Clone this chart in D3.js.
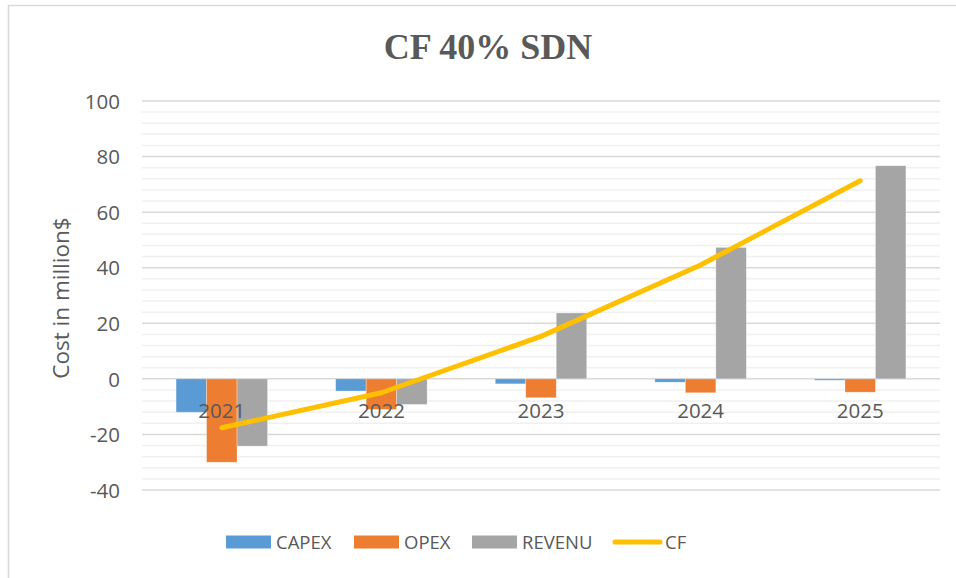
<!DOCTYPE html>
<html>
<head>
<meta charset="utf-8">
<script src="https://cdn.jsdelivr.net/npm/d3@7"></script>
<style>
  body { margin: 0; background: #fff; }
  svg { display: block; }
</style>
</head>
<body>
<svg id="chart" width="956" height="578"></svg>
<script>
const years = ["2021", "2022", "2023", "2024", "2025"];
const seriesNames = ["CAPEX", "OPEX", "REVENU"];
const capex = [-12, -4.4, -1.8, -1.2, -0.5];
const opex = [-30, -11, -6.8, -5, -4.8];
const revenu = [-24.2, -9.2, 23.7, 47.3, 76.7];
const cf = [-17.6, -5, 15.3, 41, 71.3];
const yTicks = [-40, -20, 0, 20, 40, 60, 80, 100];

const colors = { CAPEX: "#5B9BD5", OPEX: "#ED7D31", REVENU: "#A5A5A5", CF: "#FFC000" };
const txt = "#595959";
const sans = "'Open Sans', 'Noto Sans', sans-serif";

const svg = d3.select("#chart");
const margin = { top: 101, right: 16, bottom: 88, left: 142 };

// chart frame (right/bottom edges sit off the picture)
svg.append("rect")
    .attr("x", 8.5).attr("y", 5.5)
    .attr("width", 980).attr("height", 600)
    .attr("fill", "#fff")
    .attr("stroke", "#d9d9d9")
    .attr("stroke-width", 1.5);

svg.append("text")
    .attr("x", 488).attr("y", 59)
    .attr("text-anchor", "middle")
    .attr("font-family", "'Liberation Serif', 'Times New Roman', serif")
    .attr("font-weight", "bold")
    .attr("font-size", 36)
    .attr("fill", txt)
    .text("CF 40% SDN");

const g = svg.append("g")
    .attr("transform", "translate(" + margin.left + "," + margin.top + ")");

const x = d3.scaleBand().domain(years).range([0, 798]).padding(0);
const y = d3.scaleLinear().domain([-40, 100]).range([389, 0]);

const barW = x.bandwidth() * 0.191;
const x1 = d3.scaleBand().domain(seriesNames)
    .range([x.bandwidth() / 2 - 1.5 * barW, x.bandwidth() / 2 + 1.5 * barW]);

// minor gridlines
g.append("g")
    .selectAll("line")
    .data(d3.range(-40, 101, 4).filter((v) => v % 20 !== 0))
    .enter().append("line")
    .attr("x1", 0).attr("x2", 798)
    .attr("y1", (d) => y(d)).attr("y2", (d) => y(d))
    .attr("stroke", "#f0f0f0")
    .attr("stroke-width", 1.5);

// major gridlines
g.append("g")
    .selectAll("line")
    .data(yTicks)
    .enter().append("line")
    .attr("x1", 0).attr("x2", 798)
    .attr("y1", (d) => y(d)).attr("y2", (d) => y(d))
    .attr("stroke", "#d9d9d9")
    .attr("stroke-width", 1.5);

// y axis labels (plain hyphen for negatives, like the source)
const yAxis = g.append("g")
    .attr("transform", "translate(-22,0)")
    .call(d3.axisLeft(y).tickValues(yTicks).tickSize(0).tickPadding(0)
        .tickFormat((d) => String(d)));
yAxis.select(".domain").remove();
yAxis.selectAll("text")
    .attr("font-family", sans)
    .attr("font-size", 20.5)
    .attr("fill", txt)
    .attr("dy", "0.35em");

svg.append("text")
    .attr("transform", "translate(69,298) rotate(-90)")
    .attr("text-anchor", "middle")
    .attr("font-family", sans)
    .attr("font-size", 22.5)
    .attr("fill", txt)
    .text("Cost in million$");

const rows = years.map((yr, i) => ({ year: yr, CAPEX: capex[i], OPEX: opex[i], REVENU: revenu[i] }));

g.append("g")
    .selectAll("g")
    .data(rows)
    .enter().append("g")
    .attr("transform", (d) => "translate(" + x(d.year) + ",0)")
    .selectAll("rect")
    .data((d) => seriesNames.map((s) => ({ key: s, value: d[s] })))
    .enter().append("rect")
    .attr("x", (d) => x1(d.key))
    .attr("width", x1.bandwidth())
    .attr("y", (d) => y(Math.max(0, d.value)))
    .attr("height", (d) => Math.abs(y(d.value) - y(0)))
    .attr("fill", (d) => colors[d.key])
    .attr("stroke", "#fff")
    .attr("stroke-opacity", 0.4)
    .attr("stroke-width", 0.75);

// category labels sit next to the zero line
const xAxis = g.append("g")
    .attr("transform", "translate(0," + y(0) + ")")
    .call(d3.axisBottom(x).tickSize(0).tickPadding(0));
xAxis.select(".domain").remove();
xAxis.selectAll("text")
    .attr("font-family", sans)
    .attr("font-size", 20.5)
    .attr("fill", txt)
    .attr("dy", "1.9em")
    .attr("y", 0);

const line = d3.line()
    .x((d, i) => x(years[i]) + x.bandwidth() / 2)
    .y((d) => y(d));

g.append("path")
    .datum(cf)
    .attr("d", line)
    .attr("fill", "none")
    .attr("stroke", colors.CF)
    .attr("stroke-width", 5)
    .attr("stroke-linecap", "round")
    .attr("stroke-linejoin", "round");

// legend
const legend = [
    { name: "CAPEX", x: 226, type: "bar" },
    { name: "OPEX", x: 354, type: "bar" },
    { name: "REVENU", x: 472, type: "bar" },
    { name: "CF", x: 615, type: "line" }
];
const lg = svg.append("g").attr("transform", "translate(0,542)");
legend.forEach((d) => {
    if (d.type === "bar") {
        lg.append("rect")
            .attr("x", d.x).attr("y", -6.5)
            .attr("width", 45).attr("height", 13)
            .attr("fill", colors[d.name]);
    } else {
        lg.append("line")
            .attr("x1", d.x).attr("x2", d.x + 45)
            .attr("y1", 0).attr("y2", 0)
            .attr("stroke", colors.CF)
            .attr("stroke-width", 5)
            .attr("stroke-linecap", "round");
    }
    lg.append("text")
        .attr("x", d.x + 50).attr("y", 0)
        .attr("dy", "0.36em")
        .attr("font-family", sans)
        .attr("font-size", 18.5)
        .attr("fill", txt)
        .text(d.name);
});
</script>
</body>
</html>
